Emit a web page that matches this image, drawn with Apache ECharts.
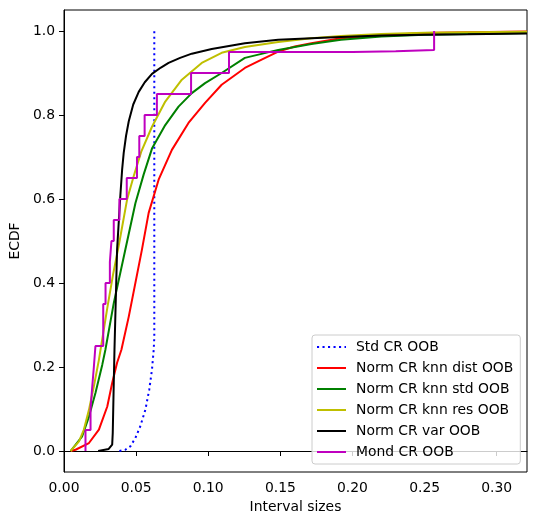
<!DOCTYPE html>
<html>
<head>
<meta charset="utf-8">
<script src="https://cdn.jsdelivr.net/npm/echarts@6.0.0/dist/echarts.min.js"></script>
<style>
  body { margin: 0; background: #fff; }
  #chart { width: 536px; height: 525px; }
</style>
</head>
<body>
<div id="chart"></div>
<script>
// tick labels
var xTicks = [0, 0.05, 0.1, 0.15, 0.2, 0.25, 0.3];
var yTicks = [0, 0.2, 0.4, 0.6, 0.8, 1.0];

var names = [
  "Std CR OOB",
  "Norm CR knn dist OOB",
  "Norm CR knn std OOB",
  "Norm CR knn res OOB",
  "Norm CR var OOB",
  "Mond CR OOB",
];

// interval size / ecdf
var stdX = [0.0384, 0.0425, 0.046, 0.0495, 0.0529, 0.0564, 0.0591, 0.061, 0.0622, 0.0626, 0.0626];
var stdY = [0, 0.003, 0.011, 0.031, 0.059, 0.098, 0.146, 0.194, 0.241, 0.27, 1.0];

var distX = [0.0046, 0.008, 0.0173, 0.0242, 0.03, 0.0334, 0.0368, 0.0398, 0.0449, 0.054, 0.0587, 0.0656, 0.0748, 0.0863, 0.0978, 0.1093, 0.1254, 0.137, 0.1485, 0.16, 0.1715, 0.192, 0.22, 0.25, 0.28, 0.321];
var distY = [0, 0.003, 0.019, 0.051, 0.106, 0.162, 0.21, 0.241, 0.32, 0.479, 0.567, 0.646, 0.717, 0.781, 0.829, 0.872, 0.912, 0.932, 0.951, 0.963, 0.971, 0.983, 0.99, 0.995, 0.997, 0.999];

var knnStdX = [0.0046, 0.0126, 0.0173, 0.0218, 0.0265, 0.0287, 0.0345, 0.0425, 0.0495, 0.0552, 0.061, 0.0702, 0.0794, 0.0886, 0.0978, 0.1093, 0.1254, 0.1485, 0.1715, 0.192, 0.22, 0.25, 0.28, 0.321];
var knnStdY = [0, 0.035, 0.082, 0.138, 0.205, 0.241, 0.352, 0.479, 0.59, 0.658, 0.72, 0.776, 0.82, 0.852, 0.876, 0.9, 0.936, 0.955, 0.969, 0.979, 0.987, 0.991, 0.993, 0.995];

var resX = [0.0046, 0.0104, 0.0138, 0.0173, 0.0207, 0.0242, 0.03, 0.034, 0.038, 0.0437, 0.0483, 0.0535, 0.061, 0.0702, 0.0817, 0.0955, 0.1093, 0.1254, 0.1485, 0.1715, 0.192, 0.22, 0.25, 0.28, 0.321];
var resY = [0, 0.023, 0.051, 0.098, 0.154, 0.217, 0.34, 0.42, 0.49, 0.598, 0.654, 0.712, 0.772, 0.832, 0.884, 0.924, 0.948, 0.962, 0.974, 0.983, 0.988, 0.993, 0.996, 0.997, 0.998];

var varX = [0.0237, 0.031, 0.0334, 0.0338, 0.0345, 0.035, 0.0368, 0.0391, 0.0403, 0.0414, 0.043, 0.0449, 0.048, 0.0518, 0.056, 0.061, 0.0672, 0.0725, 0.0805, 0.0886, 0.1024, 0.1254, 0.1485, 0.1715, 0.192, 0.22, 0.25, 0.28, 0.321];
var varY = [0, 0.005, 0.015, 0.043, 0.162, 0.241, 0.479, 0.61, 0.67, 0.71, 0.75, 0.785, 0.825, 0.855, 0.878, 0.898, 0.913, 0.924, 0.936, 0.946, 0.957, 0.971, 0.979, 0.983, 0.986, 0.989, 0.991, 0.992, 0.994];

// step ecdf (jump positions and level after the jump)
var mondX = [0.0149, 0.0149, 0.0184, 0.0195, 0.0207, 0.0218, 0.0272, 0.0288, 0.0318, 0.0329, 0.0345, 0.0384, 0.0435, 0.0506, 0.0522, 0.0559, 0.0644, 0.0881, 0.1144, 0.2, 0.23, 0.2566, 0.2566];
var mondY = [0, 0.05, 0.1, 0.15, 0.2, 0.25, 0.35, 0.4, 0.45, 0.5, 0.55, 0.6, 0.65, 0.7, 0.75, 0.8, 0.85, 0.9, 0.95, 0.952, 0.955, 0.96, 1.0];

function zip(xs, ys) {
  return xs.map(function (x, i) { return [x, ys[i]]; });
}

var font = "DejaVu Sans";
var fs = 13.9;

function line(name, xs, ys, color, extra) {
  var s = {
    name: name,
    type: "line",
    data: zip(xs, ys),
    symbol: "none",
    showSymbol: false,
    lineStyle: { color: color, width: 2 },
    itemStyle: { color: color },
  };
  if (extra) {
    for (var k in extra) s[k] = extra[k];
  }
  return s;
}

var chart = echarts.init(document.getElementById("chart"));
chart.setOption({
  animation: false,
  backgroundColor: "#fff",
  textStyle: { fontFamily: font },
  grid: {
    left: 62,
    right: 9,
    top: 10,
    bottom: 53,
    show: true,
    borderColor: "#000",
    borderWidth: 1,
  },
  legend: {
    orient: "vertical",
    left: 312,
    top: 335,
    padding: [5, 7, 5, 4],
    itemGap: 7,
    itemWidth: 29,
    itemHeight: 14,
    itemStyle: { opacity: 0 }, // hide the circle, keep only the line
    backgroundColor: "rgba(255,255,255,0.8)",
    borderColor: "#cccccc",
    borderWidth: 1,
    borderRadius: 3,
    textStyle: { fontFamily: font, fontSize: fs, color: "#000", padding: [0, 0, 0, 5] },
    data: names,
  },
  xAxis: {
    type: "value",
    min: 0,
    max: 0.321,
    name: "Interval sizes",
    nameLocation: "middle",
    nameGap: 28,
    nameTextStyle: { fontFamily: font, fontSize: fs, color: "#000" },
    axisLine: { show: true, lineStyle: { color: "#000", width: 1 } },
    axisTick: { show: true, inside: false, length: 5, lineStyle: { color: "#000" }, customValues: xTicks },
    axisLabel: {
      margin: 9,
      fontFamily: font,
      fontSize: fs,
      color: "#000",
      alignMinLabel: "center",
      alignMaxLabel: "center",
      customValues: xTicks,
      formatter: function (v) { return v.toFixed(2); },
    },
    splitLine: { show: false },
  },
  yAxis: {
    type: "value",
    min: -0.05,
    max: 1.05,
    name: "ECDF",
    nameLocation: "middle",
    nameGap: 42,
    nameTextStyle: { fontFamily: font, fontSize: fs, color: "#000" },
    axisLine: { show: true, lineStyle: { color: "#000", width: 1 } },
    axisTick: { show: true, inside: false, length: 5, lineStyle: { color: "#000" }, customValues: yTicks },
    axisLabel: {
      margin: 9,
      fontFamily: font,
      fontSize: fs,
      color: "#000",
      customValues: yTicks,
      formatter: function (v) { return v.toFixed(1); },
    },
    splitLine: { show: false },
  },
  series: [
    line(names[0], stdX, stdY, "#0000ff", {}),
    line(names[1], distX, distY, "#ff0000"),
    line(names[2], knnStdX, knnStdY, "#008000"),
    line(names[3], resX, resY, "#bfbf00"),
    line(names[4], varX, varY, "#000000"),
    line(names[5], mondX, mondY, "#bf00bf", { step: "end" }),
  ],
});
// dotted style for the std series
chart.setOption({
  series: [{ lineStyle: { type: [2.1, 3.4] } }],
});
</script>
</body>
</html>
